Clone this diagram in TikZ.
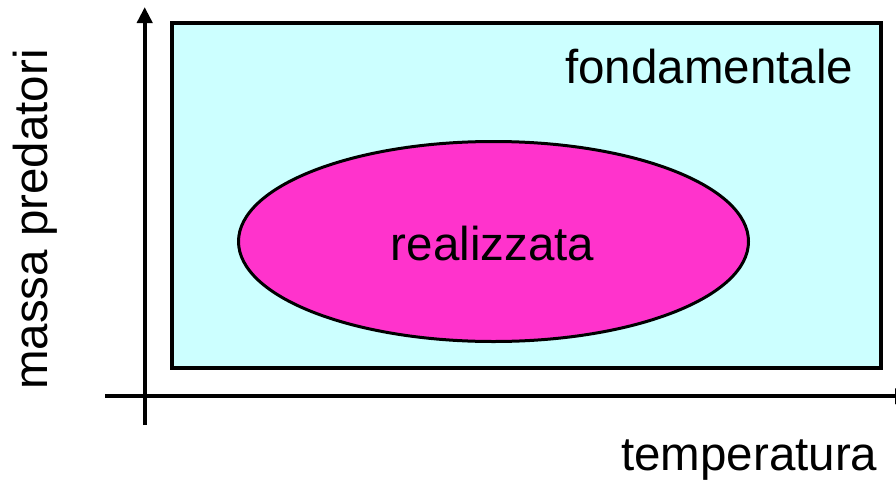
\documentclass[tikz,border=0pt]{standalone}
\usepackage{fontspec}
\setmainfont{Liberation Sans}
\usetikzlibrary{arrows.meta,shapes.geometric}
\definecolor{nichefill}{HTML}{CCFFFF}
\definecolor{realfill}{HTML}{FF33CC}
\tikzset{
  axis/.style={line width=4pt,-{Triangle[length=16pt,width=15pt]}},
  label/.style={font=\fontsize{47.5}{50}\selectfont,inner sep=0pt},
}
\begin{document}
\begin{tikzpicture}[x=1pt,y=-1pt]
\useasboundingbox (0,0) rectangle (896,479);
% fundamental niche
\draw[line width=4pt,fill=nichefill] (172,23) rectangle (881,368);
% realised niche
\node[ellipse,draw,line width=3pt,fill=realfill,minimum width=510pt,minimum height=200pt,inner sep=0pt] (real) at (493.5,241.5) {};
% axes
\coordinate (ybot) at (144.7,425);
\coordinate (ytop) at (144.7,7);
\coordinate (xleft) at (105,396.3);
\coordinate (xright) at (911,396.3);
\draw[axis] (ybot) -- (ytop);
\draw[axis] (xleft) -- (xright);
% labels
\node[label,anchor=base west] (fond) at (565,83) {fondamentale};
\node[label,anchor=base] (realtxt) at (492.5,260) {realizzata};
\node[label,anchor=base west] (xlab) at (621,470) {temperatura};
\node[label,anchor=base west,rotate=90] (ylab) at (47,390) {massa predatori};
\end{tikzpicture}
\end{document}
